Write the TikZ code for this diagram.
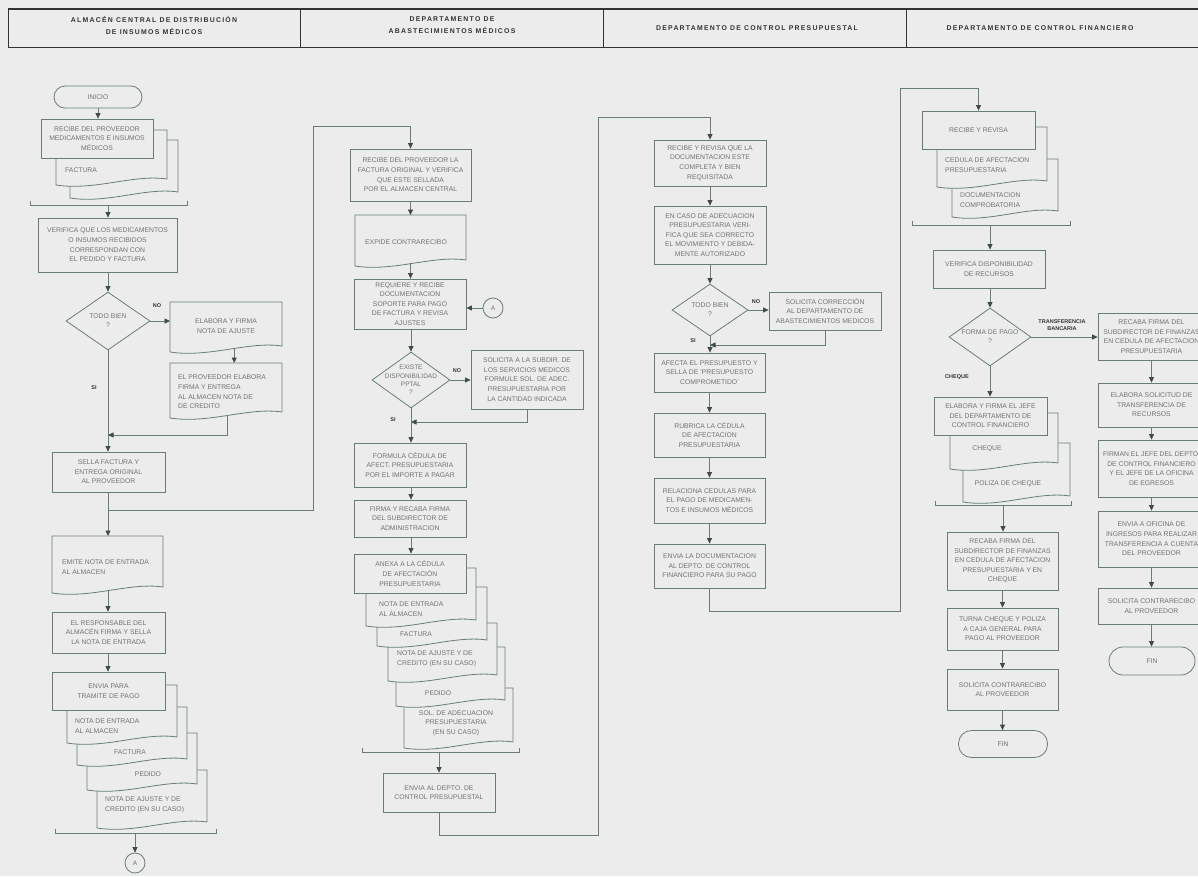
\documentclass[tikz,border=0pt]{standalone}
\usepackage{fontspec}
\setmainfont{Liberation Sans}
\newfontfamily\hdrfont[LetterSpace=18]{Liberation Sans}
\usetikzlibrary{arrows.meta,shapes.geometric}
\definecolor{bgc}{RGB}{236,236,236}
\definecolor{linec}{RGB}{105,124,124}
\definecolor{arrowc}{RGB}{65,75,75}
\definecolor{textc}{RGB}{112,116,116}
\definecolor{hdrc}{RGB}{50,52,52}
\tikzset{
  bodyfont/.style={font=\fontsize{6.8}{9.6}\selectfont},
  pbox/.style={draw=linec, fill=bgc, line width=0.8pt, inner sep=1pt, align=center, text=textc, bodyfont},
  term/.style={pbox},
  dtext/.style={inner sep=0, align=left, text=textc, bodyfont},
  ltext/.style={inner sep=0, align=center, text=textc, font=\fontsize{6.8}{9}\selectfont},
  dia/.style={diamond, draw=linec, fill=bgc, line width=0.8pt, inner sep=0},
  circ/.style={circle, draw=linec, fill=bgc, line width=0.8pt, minimum size=20, inner sep=0, text=textc, font=\fontsize{6.5}{7}\selectfont},
  ln/.style={draw=linec, line width=0.8pt},
  arr/.style={ln, -{Triangle[length=5.5pt,width=5pt,color=arrowc]}},
  lbl/.style={inner sep=0, text=hdrc, align=center, font=\bfseries\fontsize{5.5}{7}\selectfont},
  htxt/.style={inner sep=0, align=center, text=hdrc, font=\hdrfont\bfseries\fontsize{6.9}{12}\selectfont},
}
% box: name x1 y1 x2 y2 text
\newcommand\pbx[6]{\node[pbox, minimum width={#4-#2}, minimum height={#5-#3}] (#1) at ({(#2+#4)/2},{(#3+#5)/2}) {#6};}
% document shape: name x1 y1 x2 y2(bottom-left)
\newcommand\pdoc[5]{%
  \filldraw[ln, fill=bgc] (#2,#3) -- (#4,#3) -- (#4,{#5-6}) .. controls ({#4-0.3*(#4-#2)},{#5-11}) and ({#2+0.35*(#4-#2)},{#5+6}) .. (#2,#5) -- cycle;
  \node[inner sep=0, minimum width={#4-#2}, minimum height={#5-#3-3}, anchor=north west] (#1) at (#2,#3) {};}
% bracket: x1 x2 y
\newcommand\pbrk[3]{\draw[ln] (#1,{#3-4}) -- (#1,#3) -- (#2,#3) -- (#2,{#3-4});}
\begin{document}
\begin{tikzpicture}[x=1pt,y=-1pt]
\useasboundingbox (0,0) rectangle (1198,876);
\clip (0,0) rectangle (1198,876);
\fill[bgc] (0,0) rectangle (1198,876);
% header
\draw[draw=hdrc, line width=0.9pt] (8,9) rectangle (1215,47);
\draw[draw=hdrc, line width=1.6pt] (8,9) -- (1215,9);
\draw[draw=hdrc, line width=0.8pt] (300,9) -- (300,47) (603,9) -- (603,47) (906,9) -- (906,47);
\node[htxt] (h1) at (154,25) {ALMACÉN CENTRAL DE DISTRIBUCIÓN\\DE INSUMOS MÉDICOS};
\node[htxt] (h2) at (452,25) {DEPARTAMENTO DE\\ABASTECIMIENTOS MÉDICOS};
\node[htxt] (h3) at (757,28) {DEPARTAMENTO DE CONTROL PRESUPUESTAL};
\node[htxt] (h4) at (1040,28) {DEPARTAMENTO DE CONTROL FINANCIERO};

%================ column 1
\node[term, rounded corners=11pt, minimum width=88, minimum height=22] (inicio) at (98,97) {INICIO};
\pdoc{c1d3}{70}{140}{178}{198}
\pdoc{c1d2}{56}{130}{167}{185}
\node[dtext, anchor=west] (t-c1d2) at (65,170) {FACTURA};
\pbx{recibe1}{41}{119}{153}{158}{RECIBE DEL PROVEEDOR\\MEDICAMENTOS E INSUMOS\\MÉDICOS}
\pbrk{30}{187}{205}
\coordinate (b1) at (108,205);
\pbx{verif}{38}{218}{177}{272}{VERIFICA QUE LOS MEDICAMENTOS\\O INSUMOS RECIBIDOS\\CORRESPONDAN CON\\EL PEDIDO Y FACTURA}
\node[dia, minimum width=84, minimum height=58, label={[ltext]center:{TODO BIEN\\?}}] (d1) at (108,321) {};
\pdoc{ajuste}{170}{302}{282}{352}
\node[dtext, align=center] (t-ajuste) at (226,326) {ELABORA Y FIRMA\\NOTA DE AJUSTE};
\pdoc{prov}{170}{363}{282}{418}
\node[dtext, anchor=west] (t-prov) at (178,392) {EL PROVEEDOR ELABORA\\FIRMA Y ENTREGA\\AL ALMACEN NOTA DE\\DE CREDITO};
\node[lbl] (no1) at (157,306) {NO};
\node[lbl] (si1) at (94,388) {SI};
\coordinate (j1) at (108,435);
\pbx{sella}{52}{452}{165}{492}{SELLA FACTURA Y\\ENTREGA ORIGINAL\\AL PROVEEDOR}
\coordinate (j2) at (108,510);
\pdoc{emite}{52}{536}{163}{593}
\node[dtext, anchor=west] (t-emite) at (62,567) {EMITE NOTA DE ENTRADA\\AL ALMACEN};
\pbx{resp}{52}{612}{165}{653}{EL RESPONSABLE DEL\\ALMACÉN FIRMA Y SELLA\\LA NOTA DE ENTRADA}
\pdoc{c1sd}{97}{770}{207}{828}
\pdoc{c1sc}{87}{733}{197}{790}
\pdoc{c1sb}{77}{707}{187}{765}
\pdoc{c1sa}{67}{685}{177}{743}
\pbx{envia1}{52}{672}{165}{710}{ENVIA PARA\\TRAMITE DE PAGO}
\node[dtext, anchor=west] (t-c1sa) at (75,726) {NOTA DE ENTRADA\\AL ALMACEN};
\node[dtext] (t-c1sb) at (130,752) {FACTURA};
\node[dtext] (t-c1sc) at (148,774) {PEDIDO};
\node[dtext, anchor=west] (t-c1sd) at (105,805) {NOTA DE AJUSTE Y DE\\CREDITO (EN SU CASO)};
\pbrk{55}{216}{833}
\coordinate (b2) at (135,833);
\node[circ] (A1) at (135,863) {A};

%================ column 2
\coordinate (c2a) at (313,126);
\pbx{recibe2}{350}{149}{471}{201}{RECIBE DEL PROVEEDOR LA\\FACTURA ORIGINAL Y VERIFICA\\QUE ESTE SELLADA\\POR EL ALMACEN CENTRAL}
\pdoc{expide}{355}{215}{466}{266}
\node[dtext, anchor=west] (t-expide) at (365,242) {EXPIDE CONTRARECIBO};
\pbx{requiere}{354}{279}{466}{329}{REQUIERE Y RECIBE\\DOCUMENTACION\\SOPORTE PARA PAGO\\DE FACTURA Y REVISA\\AJUSTES}
\node[circ] (A2) at (493,308) {A};
\node[dia, minimum width=78, minimum height=56, label={[ltext, font=\fontsize{6.5}{8.4}\selectfont]center:{EXISTE\\DISPONIBILIDAD\\PPTAL\\?}}] (d2) at (411,380) {};
\pbx{solic}{471}{350}{583}{409}{SOLICITA A LA SUBDIR. DE\\LOS SERVICIOS MEDICOS\\FORMULE SOL. DE ADEC.\\PRESUPUESTARIA POR\\LA CANTIDAD INDICADA}
\node[lbl] (no2) at (457,371) {NO};
\node[lbl] (si2) at (393,420) {SI};
\coordinate (j3) at (411,422);
\pbx{formula}{354}{443}{466}{487}{FORMULA CÉDULA DE\\AFECT. PRESUPUESTARIA\\POR EL IMPORTE A PAGAR}
\pbx{firma}{354}{500}{466}{537}{FIRMA Y RECABA FIRMA\\DEL SUBDIRECTOR DE\\ADMINISTRACION}
\pdoc{c2se}{404}{688}{513}{748}
\pdoc{c2sd}{396}{647}{505}{706}
\pdoc{c2sc}{388}{623}{497}{681}
\pdoc{c2sb}{377}{587}{487}{646}
\pdoc{c2sa}{366}{568}{476}{626}
\pbx{anexa}{354}{554}{466}{593}{ANEXA A LA CÉDULA\\DE AFECTACIÓN\\PRESUPUESTARIA}
\node[dtext, anchor=west] (t-c2sa) at (379,609) {NOTA DE ENTRADA\\AL ALMACEN};
\node[dtext, anchor=west] (t-c2sb) at (400,634) {FACTURA};
\node[dtext, anchor=west] (t-c2sc) at (397,659) {NOTA DE AJUSTE Y DE\\CREDITO (EN SU CASO)};
\node[dtext] (t-c2sd) at (438,693) {PEDIDO};
\node[dtext, align=center] (t-c2se) at (456,723) {SOL. DE ADECUACION\\PRESUPUESTARIA\\(EN SU CASO)};
\pbrk{362}{519}{752}
\coordinate (b3) at (439,752);
\pbx{envia2}{383}{773}{495}{812}{ENVIA AL DEPTO. DE\\CONTROL PRESUPUESTAL}
\coordinate (c3a) at (598,835);
\coordinate (c3b) at (598,117);

%================ column 3
\pbx{rr3}{654}{140}{766}{186}{RECIBE Y REVISA QUE LA\\DOCUMENTACION ESTE\\COMPLETA Y BIEN\\REQUISITADA}
\pbx{encaso}{654}{206}{766}{264}{EN CASO DE ADECUACION\\PRESUPUESTARIA VERI-\\FICA QUE SEA CORRECTO\\EL MOVIMIENTO Y DEBIDA-\\MENTE AUTORIZADO}
\node[dia, minimum width=76, minimum height=52, label={[ltext]center:{TODO BIEN\\?}}] (d3) at (710,310) {};
\pbx{solcorr}{769}{292}{881}{330}{SOLICITA CORRECCIÓN\\AL DEPARTAMENTO DE\\ABASTECIMIENTOS MEDICOS}
\node[lbl] (no3) at (756,302) {NO};
\node[lbl] (si3) at (693,341) {SI};
\coordinate (j4) at (710,345);
\pbx{afecta}{654}{353}{765}{392}{AFECTA EL PRESUPUESTO Y\\SELLA DE 'PRESUPUESTO\\COMPROMETIDO'}
\pbx{rubrica}{654}{413}{765}{457}{RUBRICA LA CÉDULA\\DE AFECTACION\\PRESUPUESTARIA}
\pbx{relac}{654}{478}{765}{523}{RELACIONA CEDULAS PARA\\EL PAGO DE MEDICAMEN-\\TOS E INSUMOS MÉDICOS}
\pbx{envia3}{654}{544}{765}{588}{ENVIA LA DOCUMENTACION\\AL DEPTO. DE CONTROL\\FINANCIERO PARA SU PAGO}
\coordinate (c4a) at (900,611);
\coordinate (c4b) at (900,88);

%================ column 4
\pdoc{c4sb}{952}{159}{1058}{217}
\pdoc{c4sa}{937}{127}{1047}{187}
\pbx{rr4}{922}{111}{1035}{149}{RECIBE Y REVISA}
\node[dtext, anchor=west] (t-c4sa) at (945,165) {CEDULA DE AFECTACION\\PRESUPUESTARIA};
\node[dtext, anchor=west] (t-c4sb) at (960,200) {DOCUMENTACION\\COMPROBATORIA};
\pbrk{912}{1070}{225}
\coordinate (b4) at (990,225);
\pbx{verif4}{933}{250}{1045}{288}{VERIFICA DISPONIBILIDAD\\DE RECURSOS}
\node[dia, minimum width=82, minimum height=58, label={[ltext]center:{FORMA DE PAGO\\?}}] (d4) at (990,337) {};
\node[lbl] (tb) at (1062,325) {TRANSFERENCIA\\BANCARIA};
\node[lbl, anchor=west] (chq) at (945,377) {CHEQUE};
\pdoc{c4sd}{963}{443}{1070}{502}
\pdoc{c4sc}{950}{413}{1058}{469}
\pbx{elab4}{934}{397}{1047}{435}{ELABORA Y FIRMA EL JEFE\\DEL DEPARTAMENTO DE\\CONTROL FINANCIERO}
\node[dtext] (t-c4sc) at (987,449) {CHEQUE};
\node[dtext] (t-c4sd) at (1008,484) {POLIZA DE CHEQUE};
\pbrk{935}{1071}{505}
\coordinate (b5) at (1003,505);
\pbx{recaba4}{947}{532}{1058}{590}{RECABA FIRMA DEL\\SUBDIRECTOR DE FINANZAS\\EN CEDULA DE AFECTACION\\PRESUPUESTARIA Y EN\\CHEQUE}
\pbx{turna}{947}{608}{1058}{650}{TURNA CHEQUE Y POLIZA\\A CAJA GENERAL PARA\\PAGO AL PROVEEDOR}
\pbx{solcon4}{947}{669}{1058}{710}{SOLICITA CONTRARECIBO\\AL PROVEEDOR}
\node[term, rounded corners=13pt, minimum width=89, minimum height=27] (fin4) at (1003,744) {FIN};
% right branch
\pbx{recaba5}{1098}{313}{1205}{360}{RECABA FIRMA DEL\\SUBDIRECTOR DE FINANZAS\\EN CEDULA DE AFECTACION\\PRESUPUESTARIA}
\pbx{elabsol}{1098}{383}{1205}{427}{ELABORA SOLICITUD DE\\TRANSFERENCIA DE\\RECURSOS}
\pbx{firman}{1098}{440}{1205}{497}{FIRMAN EL JEFE DEL DEPTO.\\DE CONTROL FINANCIERO\\Y EL JEFE DE LA OFICINA\\DE EGRESOS}
\pbx{envia5}{1098}{511}{1205}{567}{ENVIA A OFICINA DE\\INGRESOS PARA REALIZAR\\TRANSFERENCIA A CUENTA\\DEL PROVEEDOR}
\pbx{solcon5}{1098}{588}{1205}{624}{SOLICITA CONTRARECIBO\\AL PROVEEDOR}
\node[term, rounded corners=14pt, minimum width=86, minimum height=28] (fin5) at (1152,661) {FIN};

%================ connectors
\draw[arr] (inicio.south) -- (inicio.south |- recibe1.north);
\draw[arr] (b1) -- (b1 |- verif.north);
\draw[arr] (verif.south -| d1.north) -- (d1.north);
\draw[arr] (d1.east) -- (d1.east -| ajuste.west);
\draw[arr] ([xshift=8]ajuste.south) -- ([xshift=8]ajuste.south |- prov.north);
\draw[arr] ([xshift=1]prov.south) |- (j1);
\draw[arr] (d1.south) -- (d1.south |- sella.north);
\draw[arr] (sella.south -| j2) -- (j2 |- emite.north);
\draw[arr] (j2) -| (c2a) -| (recibe2.north);
\draw[arr] (emite.south -| j2) -- (j2 |- resp.north);
\draw[arr] (resp.south -| j2) -- (j2 |- envia1.north);
\draw[arr] (b2) -- (A1.north);

\draw[arr] (recibe2.south) -- (recibe2.south |- expide.north);
\draw[arr] (expide.south -| recibe2.south) -- (recibe2.south |- requiere.north);
\draw[arr] (A2.west) -- (A2.west -| requiere.east);
\draw[arr] (requiere.south -| d2.north) -- (d2.north);
\draw[arr] (d2.east) -- (d2.east -| solic.west);
\draw[arr] (solic.south) |- (j3);
\draw[arr] (d2.south) -- (d2.south |- formula.north);
\draw[arr] (formula.south -| d2.south) -- (d2.south |- firma.north);
\draw[arr] (firma.south -| d2.south) -- (d2.south |- anexa.north);
\draw[arr] (b3) -- (b3 |- envia2.north);
\draw[arr] (envia2.south) |- (c3a) -- (c3b) -| (rr3.north);

\draw[arr] (rr3.south) -- (encaso.north);
\draw[arr] (encaso.south) -- (d3.north);
\draw[arr] (d3.east) -- (d3.east -| solcorr.west);
\draw[arr] (solcorr.south) |- (j4);
\draw[arr] (d3.south) -- (d3.south |- afecta.north);
\draw[arr] (afecta.south) -- (rubrica.north);
\draw[arr] (rubrica.south) -- (relac.north);
\draw[arr] (relac.south) -- (envia3.north);
\draw[arr] (envia3.south) |- (c4a) -- (c4b) -| (rr4.north);

\draw[arr] (b4) -- (b4 |- verif4.north);
\draw[arr] (verif4.south -| d4.north) -- (d4.north);
\draw[arr] (d4.east) -- (d4.east -| recaba5.west);
\draw[arr] (d4.south) -- (d4.south |- elab4.north);
\draw[arr] (b5) -- (b5 |- recaba4.north);
\draw[arr] (recaba4.south) -- (turna.north);
\draw[arr] (turna.south) -- (solcon4.north);
\draw[arr] (solcon4.south) -- (solcon4.south |- fin4.north);
\draw[arr] (recaba5.south) -- (elabsol.north);
\draw[arr] (elabsol.south) -- (firman.north);
\draw[arr] (firman.south) -- (envia5.north);
\draw[arr] (envia5.south) -- (solcon5.north);
\draw[arr] (solcon5.south) -- (solcon5.south |- fin5.north);
\end{tikzpicture}
\end{document}
